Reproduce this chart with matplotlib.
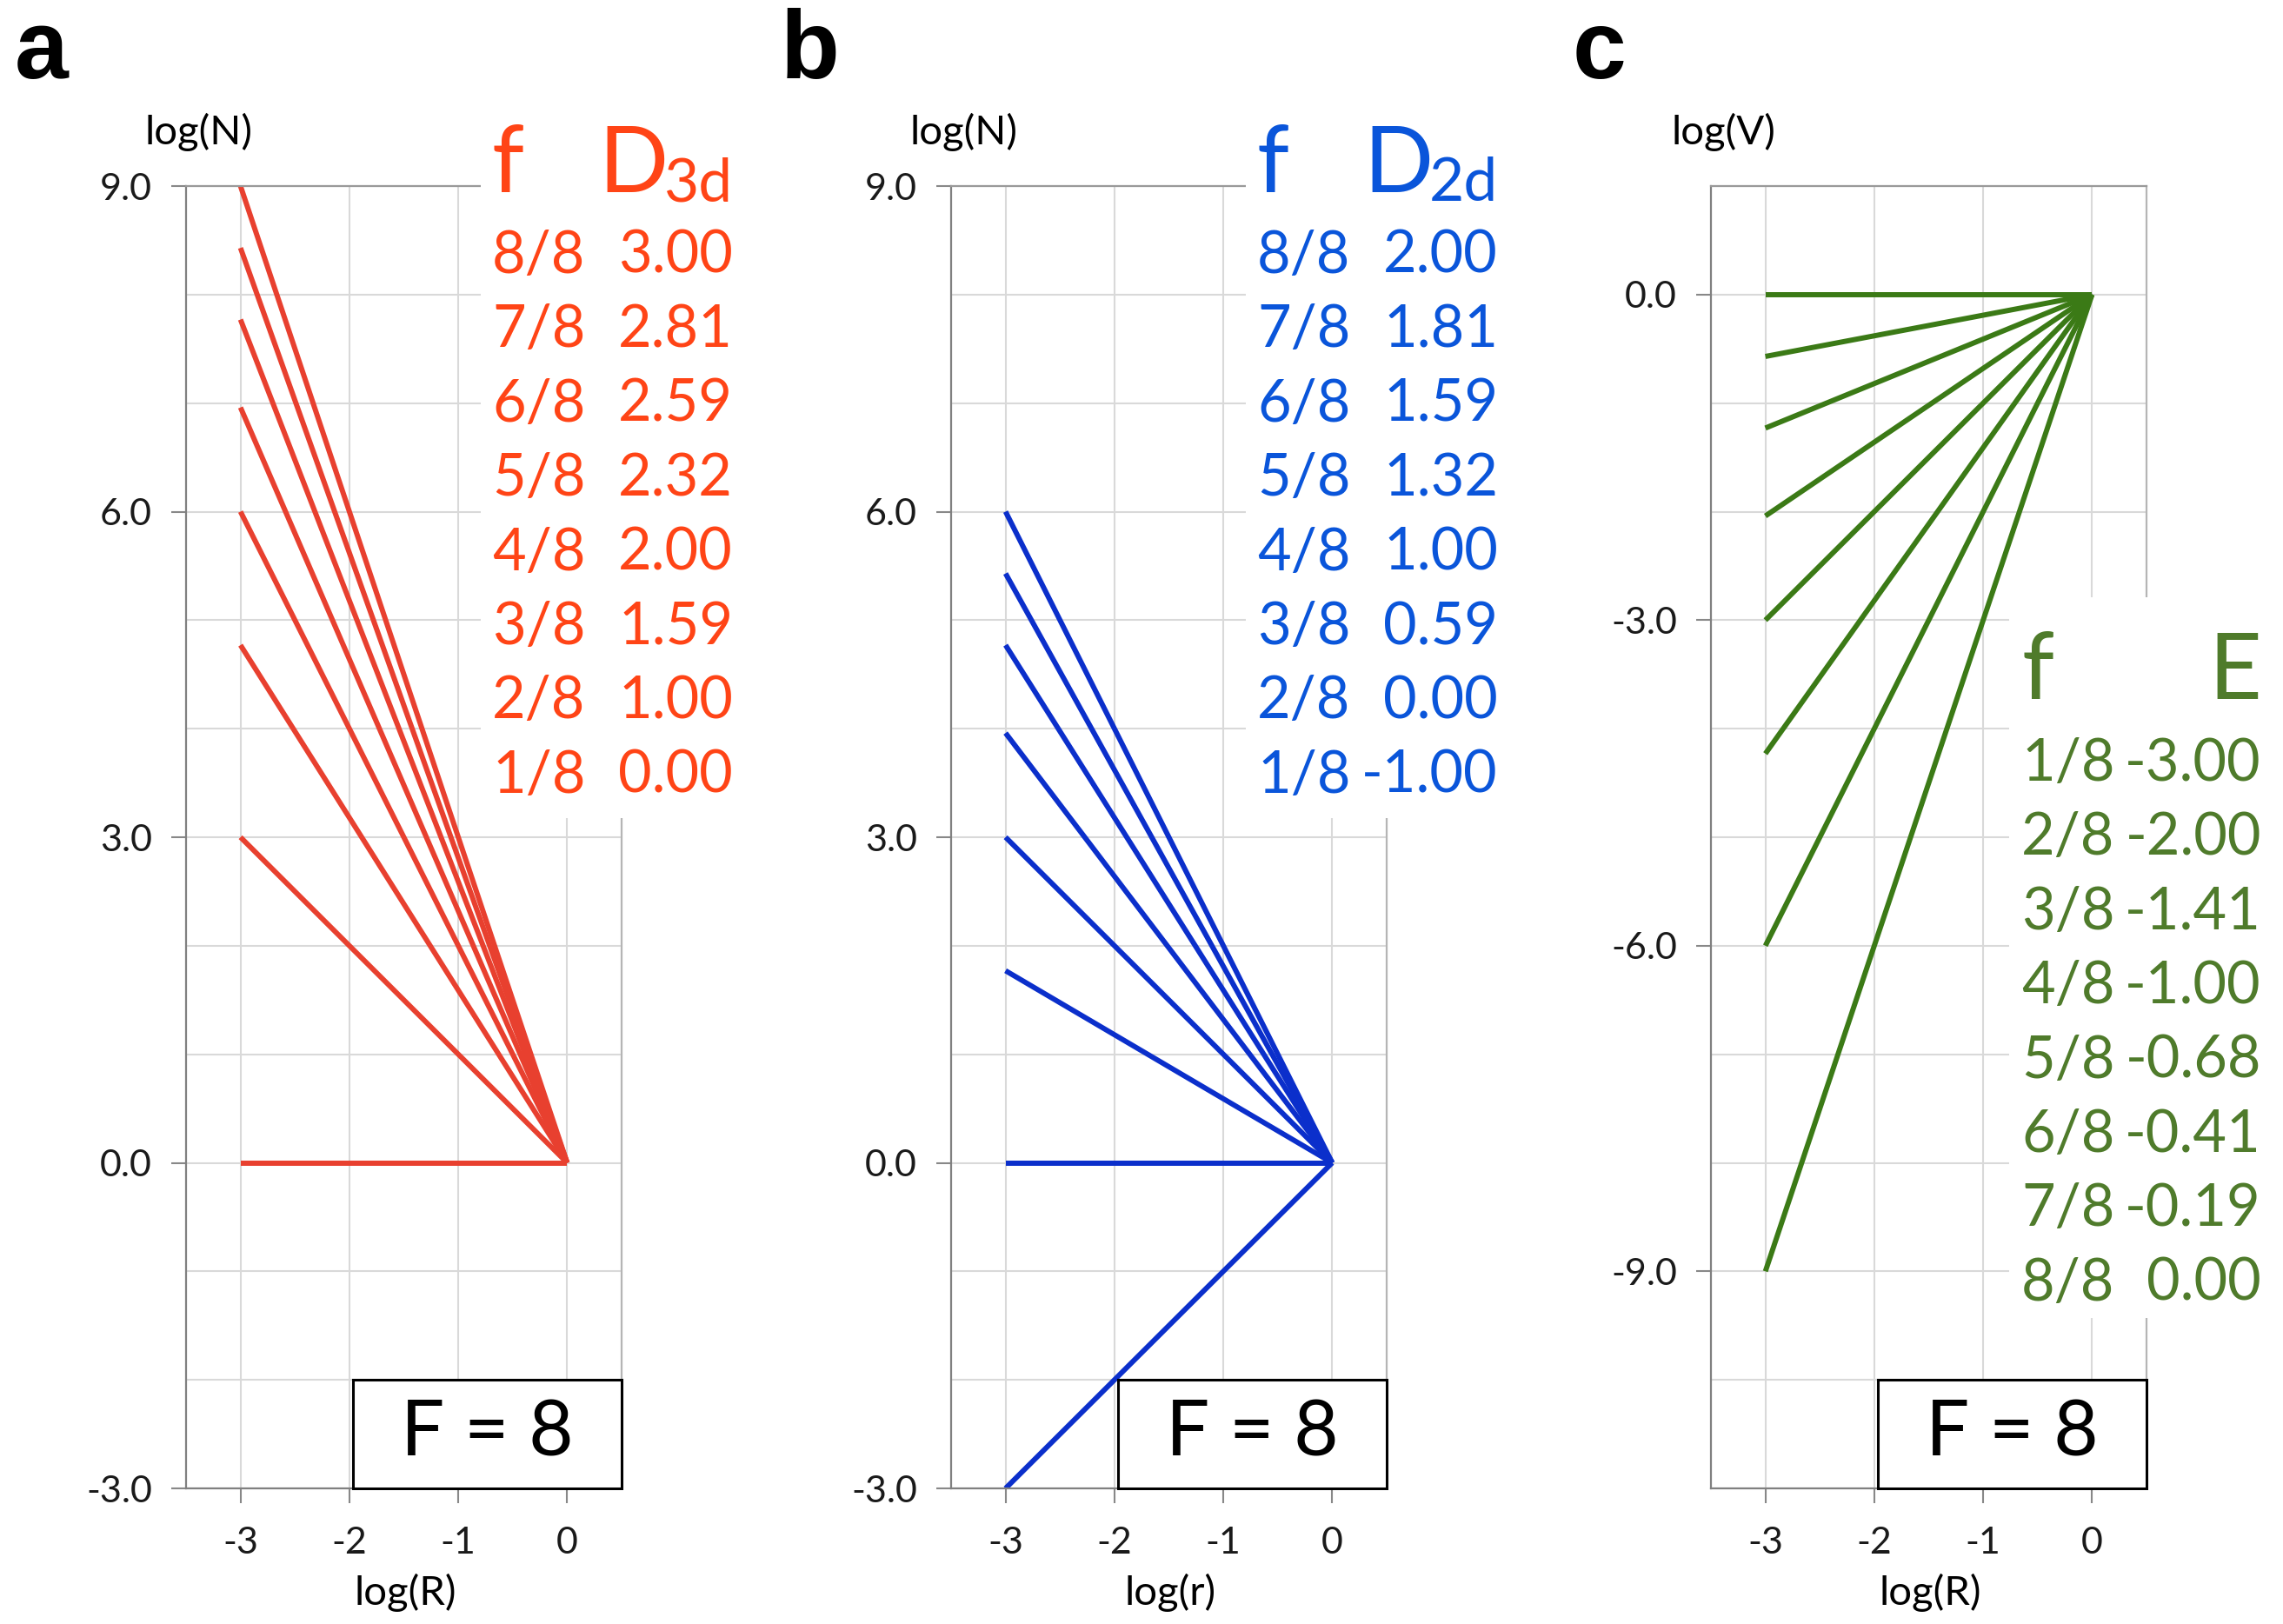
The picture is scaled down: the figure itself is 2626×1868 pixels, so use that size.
import matplotlib
matplotlib.use('Agg')
import matplotlib.pyplot as plt
from matplotlib.patches import Rectangle

# data
f_desc = ['8/8', '7/8', '6/8', '5/8', '4/8', '3/8', '2/8', '1/8']
f_asc = ['1/8', '2/8', '3/8', '4/8', '5/8', '6/8', '7/8', '8/8']
d3d = [3.00, 2.81, 2.59, 2.32, 2.00, 1.59, 1.00, 0.00]
d2d = [2.00, 1.81, 1.59, 1.32, 1.00, 0.59, 0.00, -1.00]
e_vals = [-3.00, -2.00, -1.41, -1.00, -0.68, -0.41, -0.19, 0.00]
log_x = [-3, 0]
x_ticks = [-3, -2, -1, 0]
y_ticks_ab = [-3.0, 0.0, 3.0, 6.0, 9.0]
y_ticks_c = [-9.0, -6.0, -3.0, 0.0]

W, H = 2626, 1868
plt.rcParams['font.family'] = ['Lato', 'DejaVu Sans']

fig = plt.figure(figsize=(W / 100, H / 100), dpi=100)
fig.patch.set_facecolor('white')


def fx(px):
    return px / W


def fy(py):
    return 1 - py / H


def make_axes(left_px, ylim, yticks, xlab, ylab):
    ax = fig.add_axes([fx(left_px), fy(1712), 501 / W, 1498 / H])
    ax.set_xlim(-3.5, 0.5)
    ax.set_ylim(*ylim)
    ax.set_xticks(x_ticks, labels=[str(v) for v in x_ticks])
    ax.set_yticks(yticks, labels=['%.1f' % v for v in yticks])
    ax.set_yticks(range(int(ylim[0]), int(ylim[1]) + 1), minor=True)
    ax.tick_params(axis='y', which='minor', length=0)
    ax.tick_params(axis='both', which='major', length=12, width=1.5,
                   color='#888888', labelsize=31, labelcolor='#1a1a1a')
    ax.tick_params(axis='y', which='major', pad=16)
    ax.tick_params(axis='x', which='major', pad=20)
    ax.set_axisbelow(True)
    ax.grid(axis='x', which='major', color='#d9d9d9', lw=1.5)
    ax.grid(axis='y', which='both', color='#d9d9d9', lw=1.5)
    for s in ax.spines.values():
        s.set_color('#999999')
        s.set_linewidth(1.6)
    ax.spines['left'].set_color('#808080')
    ax.spines['bottom'].set_color('#808080')
    ax.spines['right'].set_color('#b5b5b5')
    fig.text(fx(left_px + 14), fy(152), ylab, ha='center', va='center', fontsize=34)
    fig.text(fx(left_px + 252), fy(1832), xlab, ha='center', va='center', fontsize=34)
    # F = 8 box
    ax.add_patch(Rectangle((-1.97, ylim[0]), 2.47, 1.0, facecolor='white',
                           edgecolor='black', lw=2.2, zorder=5, clip_on=False))
    ax.text((-1.97 + 0.5) / 2, ylim[0] + 0.5, 'F = 8', ha='center', va='center',
            fontsize=64, color='black', zorder=6)
    return ax


def table(x0, x1, y0, y1, fx_left, v_right, head_base, row_base, sym, sub,
          flabels, vals, color):
    fig.patches.append(Rectangle((fx(x0), fy(y1)), (x1 - x0) / W, (y1 - y0) / H,
                                 transform=fig.transFigure, facecolor='white',
                                 edgecolor='none', zorder=3))
    fig.text(fx(fx_left), fy(head_base), 'f', ha='left', va='baseline',
             fontsize=76, color=color, zorder=4)
    if sub:
        fig.text(fx(v_right), fy(head_base + 10), sub, ha='right', va='baseline',
                 fontsize=50, color=color, zorder=4)
        fig.text(fx(v_right - 74), fy(head_base), sym, ha='right', va='baseline',
                 fontsize=76, color=color, zorder=4)
    else:
        fig.text(fx(v_right), fy(head_base), sym, ha='right', va='baseline',
                 fontsize=76, color=color, zorder=4)
    for i, (lab, v) in enumerate(zip(flabels, vals)):
        yb = row_base + 85.4 * i
        fig.text(fx(fx_left), fy(yb), lab, ha='left', va='baseline',
                 fontsize=48, color=color, zorder=4)
        fig.text(fx(v_right), fy(yb), '%.2f' % v, ha='right', va='baseline',
                 fontsize=48, color=color, zorder=4)


# panel a
ax_a = make_axes(214, (-3, 9), y_ticks_ab, 'log(R)', 'log(N)')
for d in d3d:
    ax_a.plot(log_x, [-d * x for x in log_x], color='#e8402f', lw=4.3,
              solid_capstyle='butt', zorder=2)
table(553, 862, 142, 941, 566, 843, 221, 314, 'D', '3d', f_desc, d3d, '#ff4416')

# panel b
ax_b = make_axes(1094, (-3, 9), y_ticks_ab, 'log(r)', 'log(N)')
for d in d2d:
    ax_b.plot(log_x, [-d * x for x in log_x], color='#0b2fcb', lw=4.3,
              solid_capstyle='butt', zorder=2)
table(1433, 1742, 142, 941, 1446, 1723, 221, 314, 'D', '2d', f_desc, d2d, '#0a55da')

# panel c
ax_c = make_axes(1968, (-11, 1), y_ticks_c, 'log(R)', 'log(V)')
for e in e_vals:
    ax_c.plot(log_x, [-e * x for x in log_x], color='#3b7a16', lw=4.3,
              solid_capstyle='butt', zorder=2)
table(2311, 2626, 687, 1516, 2325, 2601, 804, 898, 'E', None, f_asc, e_vals, '#4f7b2b')

# panel letters
for lab, xp in [('a', 17), ('b', 898), ('c', 1809)]:
    fig.text(fx(xp), fy(90), lab, ha='left', va='baseline', fontsize=80,
             fontweight='bold', family=['Liberation Sans', 'DejaVu Sans'])

fig.savefig('out.png', dpi=100, facecolor='white')
